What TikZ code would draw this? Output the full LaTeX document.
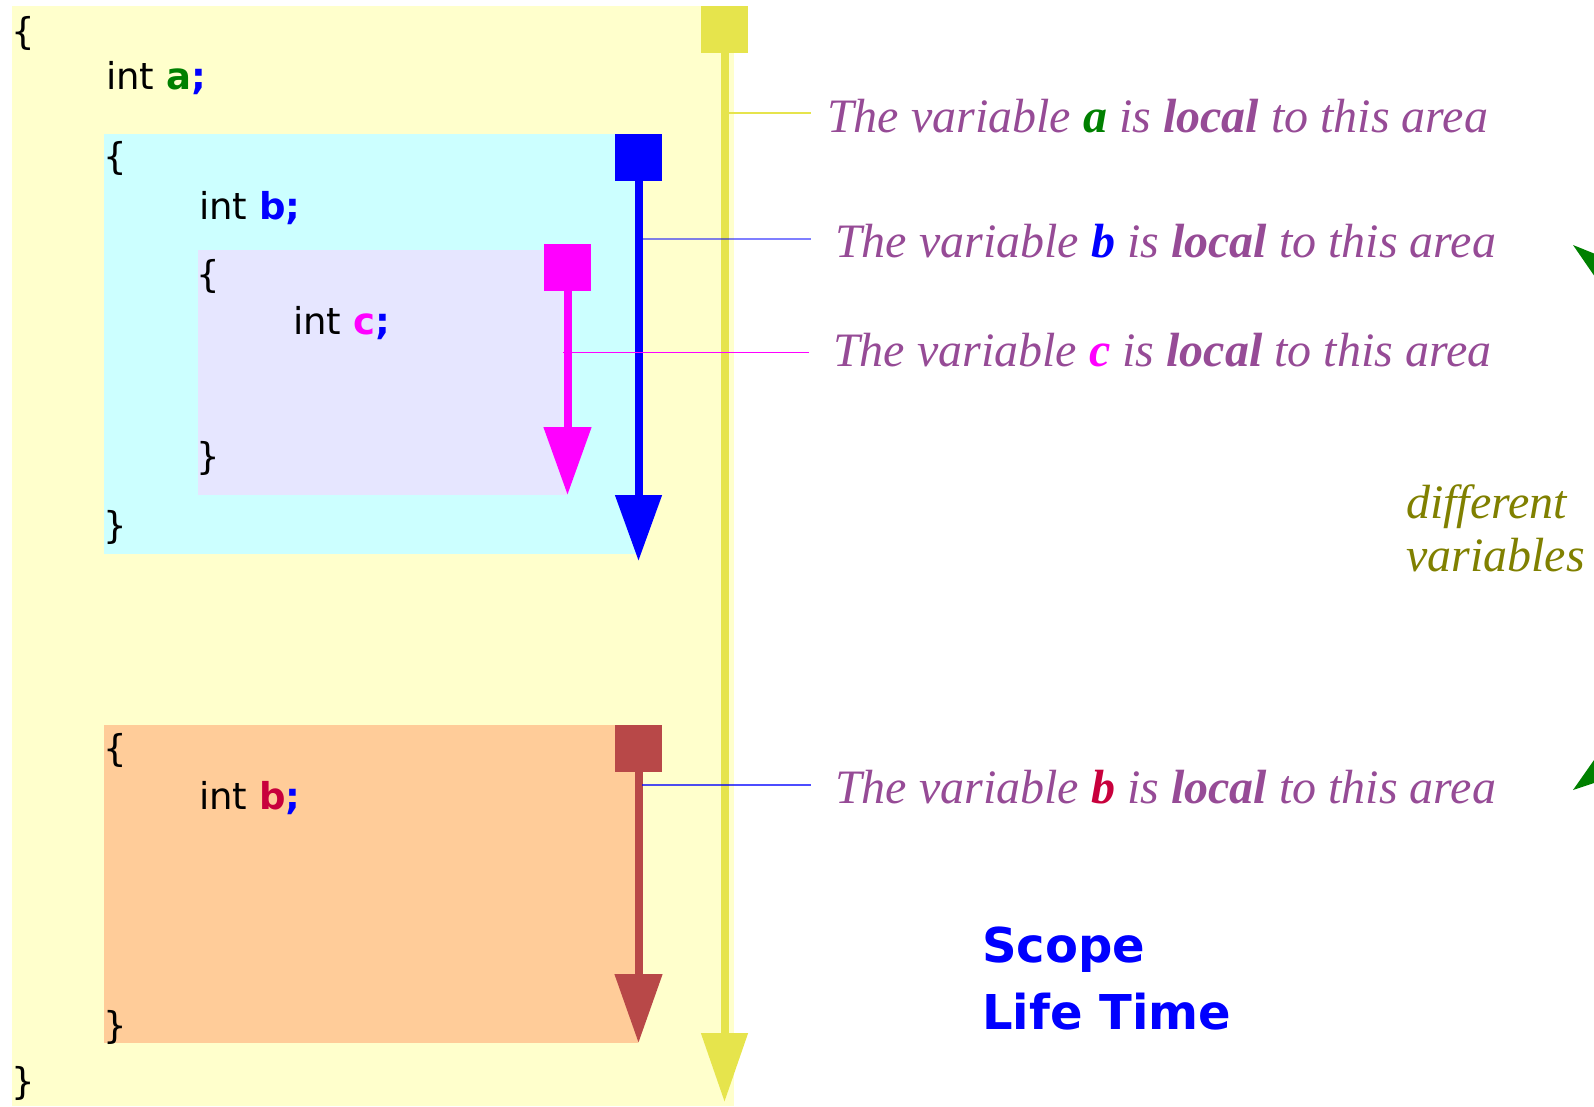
\documentclass[tikz,border=0pt]{standalone}
\usepackage{fontspec}
\setmainfont{Liberation Serif}
\newfontfamily\codefont{DejaVu Sans}
\usetikzlibrary{arrows.meta}
\definecolor{ybg}{RGB}{255,255,204}
\definecolor{cbg}{RGB}{204,255,255}
\definecolor{lbg}{RGB}{230,230,255}
\definecolor{obg}{RGB}{255,204,153}
\definecolor{lifeyellow}{RGB}{230,228,76}
\definecolor{vblue}{RGB}{0,0,255}
\definecolor{vmag}{RGB}{255,0,255}
\definecolor{vbrown}{RGB}{184,72,72}
\definecolor{vgreen}{RGB}{0,128,0}
\definecolor{vcrim}{RGB}{200,0,60}
\definecolor{notepurple}{RGB}{150,75,150}
\definecolor{volive}{RGB}{128,128,0}
\tikzset{
  code/.style={anchor=base west, inner sep=0pt, font=\codefont\fontsize{37}{40}\selectfont},
  note/.style={anchor=base west, inner ysep=0pt, font=\fontsize{48}{53}\selectfont\itshape, text=notepurple},
  sq/.style={minimum size=47pt, inner sep=0pt, fill=#1},
  life/.style={draw=#1, line width=8pt},
  conn/.style={line width=1.5pt}
}
\begin{document}
\begin{tikzpicture}[x=1pt,y=-1pt]
\useasboundingbox (0,0) rectangle (1594,1106);
% blocks
\fill[ybg] (12,6) rectangle (734,1106);
\fill[cbg] (104,134) rectangle (638,554);
\fill[lbg] (198,250) rectangle (567,495);
\fill[obg] (104,725) rectangle (638,1043);
% code
\node[code] (l1) at (11,44) {\{};
\node[code] (l2) at (106,89) {int {\bfseries\color{vgreen}a\color{vblue};}};
\node[code] (l3) at (103,169) {\{};
\node[code] (l4) at (199,219) {int {\bfseries\color{vblue}b;}};
\node[code] (l5) at (196,287) {\{};
\node[code] (l6) at (293,334) {int {\bfseries\color{vmag}c\color{vblue};}};
\node[code] (l7) at (196,469) {\}};
\node[code] (l8) at (103,538) {\}};
\node[code] (l9) at (103,761) {\{};
\node[code] (l10) at (199,809) {int {\bfseries\color{vcrim}b\color{vblue};}};
\node[code] (l11) at (103,1038) {\}};
\node[code] (l12) at (11,1094) {\}};
% lifetimes
\node[sq=lifeyellow] (ys) at (724.5,29.5) {};
\coordinate (yt) at (724.5,1102);
\draw[life=lifeyellow, -{Triangle[width=45pt,length=69pt,fill=lifeyellow]}] (ys.south) -- (yt);
\node[sq=vblue] (bs) at (638.5,157.5) {};
\coordinate (bt) at (638.5,561);
\draw[life=vblue, -{Triangle[width=45pt,length=66pt]}] (bs.south) -- (bt);
\node[sq=vmag] (ms) at (567.5,267.5) {};
\coordinate (mt) at (567.5,495);
\draw[life=vmag, -{Triangle[width=46pt,length=68pt]}] (ms.south) -- (mt);
\node[sq=vbrown] (rs) at (638.5,748.5) {};
\coordinate (rt) at (638.5,1043);
\draw[life=vbrown, -{Triangle[width=46pt,length=69pt]}] (rs.south) -- (rt);
% notes
\node[note, inner xsep=16pt] (na) at (811,132) {The variable {\bfseries\color{vgreen}a} is {\bfseries local} to this area};
\node[note, inner xsep=24pt] (nb) at (811,257) {The variable {\bfseries\color{vblue}b} is {\bfseries local} to this area};
\node[note, inner xsep=24pt] (nc) at (809,366) {The variable {\bfseries\color{vmag}c} is {\bfseries local} to this area};
\node[note, inner xsep=24pt] (nd) at (811,803) {The variable {\bfseries\color{vcrim}b} is {\bfseries local} to this area};
% connectors
\coordinate (ca) at (729,113);
\coordinate (cb) at (642,239);
\coordinate (cc) at (563,352);
\coordinate (cd) at (642,785);
\draw[conn, draw=lifeyellow] (ca) -- (ca -| na.west);
\draw[conn, draw=vblue, opacity=0.5] (cb) -- (cb -| nb.west);
\draw[line width=1pt, draw=vmag] (cc) -- (cc -| nc.west);
\draw[conn, draw=vblue, opacity=0.7] (cd) -- (cd -| nd.west);
% different variables
\node[anchor=base west, inner sep=0pt, font=\fontsize{48}{53}\selectfont\itshape, text=volive] (dv1) at (1406,518) {different};
\node[anchor=base west, inner sep=0pt, font=\fontsize{48}{53}\selectfont\itshape, text=volive] (dv2) at (1406,571) {variables};
\fill[vgreen] (1573,245) -- (1594,253.5) -- (1594,275.5) -- cycle;
\fill[vgreen] (1573,790) -- (1594,760) -- (1594,783) -- cycle;
% title
\node[anchor=base west, inner sep=0pt, font=\codefont\bfseries\fontsize{48}{55}\selectfont, text=vblue] (t1) at (982,962) {Scope};
\node[anchor=base west, inner sep=0pt, font=\codefont\bfseries\fontsize{48}{55}\selectfont, text=vblue] (t2) at (982,1029) {Life Time};
\end{tikzpicture}
\end{document}
